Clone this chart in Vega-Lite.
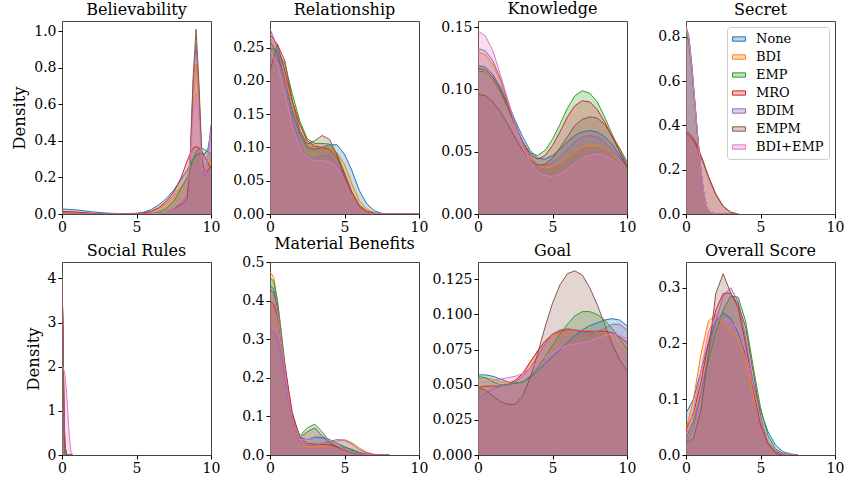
{
"$schema": "https://vega.github.io/schema/vega-lite/v6.json",
"padding": {"left": 11, "top": 0, "right": 5, "bottom": 5},
"background": "white",
"data": {"values": [
{"p":"B","x":0,"None":0.028,"BDI":0.015,"EMP":0.005,"MRO":0.015,"BDIM":0.002,"EMPM":0.005,"BDI+EMP":0.002},
{"p":"B","x":1,"None":0.022,"BDI":0.01,"EMP":0.003,"MRO":0.01,"BDIM":0.001,"EMPM":0.003,"BDI+EMP":0.001},
{"p":"B","x":2,"None":0.012,"BDI":0.004,"EMP":0.001,"MRO":0.004,"BDIM":0,"EMPM":0.001,"BDI+EMP":0},
{"p":"B","x":3,"None":0.005,"BDI":0.001,"EMP":0,"MRO":0.001,"BDIM":0,"EMPM":0,"BDI+EMP":0},
{"p":"B","x":4,"None":0.002,"BDI":0,"EMP":0,"MRO":0,"BDIM":0,"EMPM":0,"BDI+EMP":0},
{"p":"B","x":5,"None":0.004,"BDI":0.002,"EMP":0,"MRO":0.002,"BDIM":0,"EMPM":0,"BDI+EMP":0},
{"p":"B","x":5.5,"None":0.01,"BDI":0.005,"EMP":0.001,"MRO":0.006,"BDIM":0,"EMPM":0,"BDI+EMP":0},
{"p":"B","x":6,"None":0.025,"BDI":0.012,"EMP":0.003,"MRO":0.015,"BDIM":0.001,"EMPM":0.001,"BDI+EMP":0.001},
{"p":"B","x":6.5,"None":0.05,"BDI":0.03,"EMP":0.01,"MRO":0.035,"BDIM":0.004,"EMPM":0.003,"BDI+EMP":0.004},
{"p":"B","x":7,"None":0.085,"BDI":0.06,"EMP":0.03,"MRO":0.07,"BDIM":0.01,"EMPM":0.01,"BDI+EMP":0.01},
{"p":"B","x":7.5,"None":0.13,"BDI":0.1,"EMP":0.07,"MRO":0.12,"BDIM":0.03,"EMPM":0.03,"BDI+EMP":0.03},
{"p":"B","x":8,"None":0.19,"BDI":0.15,"EMP":0.14,"MRO":0.2,"BDIM":0.06,"EMPM":0.05,"BDI+EMP":0.08},
{"p":"B","x":8.4,"None":0.24,"BDI":0.2,"EMP":0.2,"MRO":0.29,"BDIM":0.1,"EMPM":0.08,"BDI+EMP":0.15},
{"p":"B","x":8.6,"None":0.27,"BDI":0.3,"EMP":0.24,"MRO":0.33,"BDIM":0.3,"EMPM":0.3,"BDI+EMP":0.3},
{"p":"B","x":8.8,"None":0.3,"BDI":0.6,"EMP":0.3,"MRO":0.36,"BDIM":0.7,"EMPM":0.75,"BDI+EMP":0.52},
{"p":"B","x":9,"None":0.32,"BDI":0.82,"EMP":0.34,"MRO":0.37,"BDIM":0.93,"EMPM":1.01,"BDI+EMP":0.66},
{"p":"B","x":9.2,"None":0.33,"BDI":0.6,"EMP":0.36,"MRO":0.36,"BDIM":0.65,"EMPM":0.7,"BDI+EMP":0.5},
{"p":"B","x":9.4,"None":0.33,"BDI":0.3,"EMP":0.36,"MRO":0.34,"BDIM":0.25,"EMPM":0.3,"BDI+EMP":0.25},
{"p":"B","x":9.6,"None":0.33,"BDI":0.22,"EMP":0.35,"MRO":0.31,"BDIM":0.2,"EMPM":0.22,"BDI+EMP":0.22},
{"p":"B","x":9.8,"None":0.36,"BDI":0.25,"EMP":0.34,"MRO":0.28,"BDIM":0.32,"EMPM":0.24,"BDI+EMP":0.32},
{"p":"B","x":10,"None":0.45,"BDI":0.32,"EMP":0.33,"MRO":0.25,"BDIM":0.49,"EMPM":0.26,"BDI+EMP":0.45},

{"p":"R","x":0,"None":0.26,"BDI":0.265,"EMP":0.25,"MRO":0.27,"BDIM":0.278,"EMPM":0.215,"BDI+EMP":0.245},
{"p":"R","x":0.5,"None":0.24,"BDI":0.25,"EMP":0.245,"MRO":0.255,"BDIM":0.25,"EMPM":0.255,"BDI+EMP":0.225},
{"p":"R","x":1,"None":0.2,"BDI":0.21,"EMP":0.225,"MRO":0.215,"BDIM":0.2,"EMPM":0.23,"BDI+EMP":0.18},
{"p":"R","x":1.5,"None":0.155,"BDI":0.16,"EMP":0.18,"MRO":0.17,"BDIM":0.145,"EMPM":0.17,"BDI+EMP":0.13},
{"p":"R","x":2,"None":0.12,"BDI":0.125,"EMP":0.14,"MRO":0.135,"BDIM":0.105,"EMPM":0.125,"BDI+EMP":0.1},
{"p":"R","x":2.5,"None":0.1,"BDI":0.105,"EMP":0.113,"MRO":0.11,"BDIM":0.085,"EMPM":0.105,"BDI+EMP":0.085},
{"p":"R","x":3,"None":0.097,"BDI":0.1,"EMP":0.106,"MRO":0.102,"BDIM":0.083,"EMPM":0.11,"BDI+EMP":0.08},
{"p":"R","x":3.5,"None":0.1,"BDI":0.1,"EMP":0.106,"MRO":0.1,"BDIM":0.088,"EMPM":0.118,"BDI+EMP":0.08},
{"p":"R","x":4,"None":0.104,"BDI":0.1,"EMP":0.105,"MRO":0.097,"BDIM":0.088,"EMPM":0.112,"BDI+EMP":0.078},
{"p":"R","x":4.5,"None":0.104,"BDI":0.092,"EMP":0.09,"MRO":0.085,"BDIM":0.075,"EMPM":0.088,"BDI+EMP":0.07},
{"p":"R","x":5,"None":0.09,"BDI":0.075,"EMP":0.062,"MRO":0.06,"BDIM":0.05,"EMPM":0.055,"BDI+EMP":0.05},
{"p":"R","x":5.5,"None":0.065,"BDI":0.045,"EMP":0.033,"MRO":0.032,"BDIM":0.025,"EMPM":0.026,"BDI+EMP":0.025},
{"p":"R","x":6,"None":0.035,"BDI":0.02,"EMP":0.013,"MRO":0.012,"BDIM":0.009,"EMPM":0.009,"BDI+EMP":0.008},
{"p":"R","x":6.5,"None":0.015,"BDI":0.007,"EMP":0.004,"MRO":0.004,"BDIM":0.002,"EMPM":0.002,"BDI+EMP":0.002},
{"p":"R","x":7,"None":0.005,"BDI":0.002,"EMP":0.001,"MRO":0.001,"BDIM":0,"EMPM":0,"BDI+EMP":0},
{"p":"R","x":7.5,"None":0.001,"BDI":0,"EMP":0,"MRO":0,"BDIM":0,"EMPM":0,"BDI+EMP":0},
{"p":"R","x":8,"None":0,"BDI":0,"EMP":0,"MRO":0,"BDIM":0,"EMPM":0,"BDI+EMP":0},
{"p":"R","x":10,"None":0,"BDI":0,"EMP":0,"MRO":0,"BDIM":0,"EMPM":0,"BDI+EMP":0},

{"p":"K","x":0,"None":0.119,"BDI":0.13,"EMP":0.115,"MRO":0.117,"BDIM":0.133,"EMPM":0.096,"BDI+EMP":0.147},
{"p":"K","x":0.5,"None":0.118,"BDI":0.128,"EMP":0.114,"MRO":0.116,"BDIM":0.131,"EMPM":0.095,"BDI+EMP":0.143},
{"p":"K","x":1,"None":0.112,"BDI":0.12,"EMP":0.108,"MRO":0.11,"BDIM":0.123,"EMPM":0.09,"BDI+EMP":0.131},
{"p":"K","x":1.5,"None":0.102,"BDI":0.107,"EMP":0.098,"MRO":0.1,"BDIM":0.109,"EMPM":0.082,"BDI+EMP":0.112},
{"p":"K","x":2,"None":0.089,"BDI":0.09,"EMP":0.085,"MRO":0.087,"BDIM":0.091,"EMPM":0.072,"BDI+EMP":0.092},
{"p":"K","x":2.5,"None":0.075,"BDI":0.072,"EMP":0.071,"MRO":0.072,"BDIM":0.073,"EMPM":0.061,"BDI+EMP":0.071},
{"p":"K","x":3,"None":0.062,"BDI":0.056,"EMP":0.058,"MRO":0.058,"BDIM":0.057,"EMPM":0.051,"BDI+EMP":0.054},
{"p":"K","x":3.5,"None":0.051,"BDI":0.045,"EMP":0.049,"MRO":0.048,"BDIM":0.046,"EMPM":0.043,"BDI+EMP":0.042},
{"p":"K","x":4,"None":0.045,"BDI":0.039,"EMP":0.047,"MRO":0.044,"BDIM":0.04,"EMPM":0.039,"BDI+EMP":0.034},
{"p":"K","x":4.5,"None":0.044,"BDI":0.037,"EMP":0.051,"MRO":0.047,"BDIM":0.039,"EMPM":0.04,"BDI+EMP":0.031},
{"p":"K","x":5,"None":0.047,"BDI":0.038,"EMP":0.06,"MRO":0.055,"BDIM":0.041,"EMPM":0.045,"BDI+EMP":0.03},
{"p":"K","x":5.5,"None":0.052,"BDI":0.041,"EMP":0.072,"MRO":0.066,"BDIM":0.046,"EMPM":0.053,"BDI+EMP":0.032},
{"p":"K","x":6,"None":0.058,"BDI":0.046,"EMP":0.085,"MRO":0.078,"BDIM":0.052,"EMPM":0.062,"BDI+EMP":0.036},
{"p":"K","x":6.5,"None":0.063,"BDI":0.05,"EMP":0.095,"MRO":0.087,"BDIM":0.058,"EMPM":0.071,"BDI+EMP":0.041},
{"p":"K","x":7,"None":0.066,"BDI":0.054,"EMP":0.099,"MRO":0.091,"BDIM":0.062,"EMPM":0.076,"BDI+EMP":0.045},
{"p":"K","x":7.5,"None":0.067,"BDI":0.055,"EMP":0.097,"MRO":0.09,"BDIM":0.063,"EMPM":0.078,"BDI+EMP":0.047},
{"p":"K","x":8,"None":0.066,"BDI":0.055,"EMP":0.09,"MRO":0.084,"BDIM":0.062,"EMPM":0.077,"BDI+EMP":0.048},
{"p":"K","x":8.5,"None":0.062,"BDI":0.053,"EMP":0.078,"MRO":0.074,"BDIM":0.058,"EMPM":0.072,"BDI+EMP":0.047},
{"p":"K","x":9,"None":0.056,"BDI":0.048,"EMP":0.064,"MRO":0.062,"BDIM":0.052,"EMPM":0.063,"BDI+EMP":0.044},
{"p":"K","x":9.5,"None":0.047,"BDI":0.042,"EMP":0.051,"MRO":0.05,"BDIM":0.045,"EMPM":0.053,"BDI+EMP":0.039},
{"p":"K","x":10,"None":0.038,"BDI":0.035,"EMP":0.04,"MRO":0.038,"BDIM":0.037,"EMPM":0.042,"BDI+EMP":0.032},

{"p":"S","x":0,"None":0.83,"BDI":0.84,"EMP":0.82,"MRO":0.37,"BDIM":0.85,"EMPM":0.36,"BDI+EMP":0.84},
{"p":"S","x":0.2,"None":0.78,"BDI":0.79,"EMP":0.77,"MRO":0.365,"BDIM":0.8,"EMPM":0.355,"BDI+EMP":0.79},
{"p":"S","x":0.4,"None":0.65,"BDI":0.66,"EMP":0.645,"MRO":0.35,"BDIM":0.67,"EMPM":0.34,"BDI+EMP":0.66},
{"p":"S","x":0.6,"None":0.49,"BDI":0.5,"EMP":0.49,"MRO":0.33,"BDIM":0.505,"EMPM":0.32,"BDI+EMP":0.5},
{"p":"S","x":0.8,"None":0.335,"BDI":0.34,"EMP":0.33,"MRO":0.3,"BDIM":0.345,"EMPM":0.29,"BDI+EMP":0.34},
{"p":"S","x":1,"None":0.2,"BDI":0.2,"EMP":0.195,"MRO":0.265,"BDIM":0.2,"EMPM":0.257,"BDI+EMP":0.2},
{"p":"S","x":1.2,"None":0.09,"BDI":0.09,"EMP":0.088,"MRO":0.23,"BDIM":0.091,"EMPM":0.223,"BDI+EMP":0.09},
{"p":"S","x":1.4,"None":0.03,"BDI":0.03,"EMP":0.03,"MRO":0.19,"BDIM":0.03,"EMPM":0.184,"BDI+EMP":0.03},
{"p":"S","x":1.6,"None":0.008,"BDI":0.008,"EMP":0.008,"MRO":0.155,"BDIM":0.008,"EMPM":0.15,"BDI+EMP":0.008},
{"p":"S","x":2,"None":0,"BDI":0,"EMP":0,"MRO":0.09,"BDIM":0,"EMPM":0.087,"BDI+EMP":0},
{"p":"S","x":2.5,"None":0,"BDI":0,"EMP":0,"MRO":0.035,"BDIM":0,"EMPM":0.034,"BDI+EMP":0},
{"p":"S","x":3,"None":0,"BDI":0,"EMP":0,"MRO":0.008,"BDIM":0,"EMPM":0.008,"BDI+EMP":0},
{"p":"S","x":3.5,"None":0,"BDI":0,"EMP":0,"MRO":0,"BDIM":0,"EMPM":0,"BDI+EMP":0},

{"p":"SR","x":0,"None":3.7,"BDI":3.8,"EMP":4.16,"MRO":3.6,"BDIM":3.9,"EMPM":4.0,"BDI+EMP":2.0},
{"p":"SR","x":0.05,"None":3.1,"BDI":3.2,"EMP":2.9,"MRO":3.05,"BDIM":3.2,"EMPM":3.1,"BDI+EMP":1.99},
{"p":"SR","x":0.1,"None":1.8,"BDI":1.9,"EMP":1.0,"MRO":1.85,"BDIM":1.8,"EMPM":1.5,"BDI+EMP":1.96},
{"p":"SR","x":0.15,"None":0.7,"BDI":0.75,"EMP":0.2,"MRO":0.75,"BDIM":0.65,"EMPM":0.45,"BDI+EMP":1.9},
{"p":"SR","x":0.2,"None":0.2,"BDI":0.22,"EMP":0.02,"MRO":0.22,"BDIM":0.18,"EMPM":0.1,"BDI+EMP":1.82},
{"p":"SR","x":0.3,"None":0.01,"BDI":0.01,"EMP":0,"MRO":0.01,"BDIM":0.01,"EMPM":0,"BDI+EMP":1.45},
{"p":"SR","x":0.4,"None":0,"BDI":0,"EMP":0,"MRO":0,"BDIM":0,"EMPM":0,"BDI+EMP":0.9},
{"p":"SR","x":0.5,"None":0,"BDI":0,"EMP":0,"MRO":0,"BDIM":0,"EMPM":0,"BDI+EMP":0.4},
{"p":"SR","x":0.6,"None":0,"BDI":0,"EMP":0,"MRO":0,"BDIM":0,"EMPM":0,"BDI+EMP":0.08},
{"p":"SR","x":0.7,"None":0,"BDI":0,"EMP":0,"MRO":0,"BDIM":0,"EMPM":0,"BDI+EMP":0},

{"p":"M","x":0,"None":0.44,"BDI":0.475,"EMP":0.46,"MRO":0.4,"BDIM":0.32,"EMPM":0.43,"BDI+EMP":0.42},
{"p":"M","x":0.25,"None":0.43,"BDI":0.46,"EMP":0.45,"MRO":0.39,"BDIM":0.32,"EMPM":0.42,"BDI+EMP":0.41},
{"p":"M","x":0.5,"None":0.38,"BDI":0.4,"EMP":0.4,"MRO":0.36,"BDIM":0.3,"EMPM":0.37,"BDI+EMP":0.37},
{"p":"M","x":0.75,"None":0.31,"BDI":0.32,"EMP":0.32,"MRO":0.3,"BDIM":0.26,"EMPM":0.3,"BDI+EMP":0.3},
{"p":"M","x":1,"None":0.23,"BDI":0.23,"EMP":0.235,"MRO":0.235,"BDIM":0.2,"EMPM":0.22,"BDI+EMP":0.22},
{"p":"M","x":1.25,"None":0.16,"BDI":0.15,"EMP":0.16,"MRO":0.17,"BDIM":0.14,"EMPM":0.15,"BDI+EMP":0.15},
{"p":"M","x":1.5,"None":0.1,"BDI":0.09,"EMP":0.1,"MRO":0.11,"BDIM":0.09,"EMPM":0.095,"BDI+EMP":0.095},
{"p":"M","x":2,"None":0.045,"BDI":0.035,"EMP":0.05,"MRO":0.045,"BDIM":0.035,"EMPM":0.045,"BDI+EMP":0.04},
{"p":"M","x":2.5,"None":0.04,"BDI":0.022,"EMP":0.07,"MRO":0.03,"BDIM":0.025,"EMPM":0.06,"BDI+EMP":0.04},
{"p":"M","x":3,"None":0.045,"BDI":0.02,"EMP":0.08,"MRO":0.028,"BDIM":0.025,"EMPM":0.07,"BDI+EMP":0.048},
{"p":"M","x":3.5,"None":0.045,"BDI":0.022,"EMP":0.06,"MRO":0.028,"BDIM":0.03,"EMPM":0.05,"BDI+EMP":0.05},
{"p":"M","x":4,"None":0.04,"BDI":0.028,"EMP":0.035,"MRO":0.026,"BDIM":0.035,"EMPM":0.03,"BDI+EMP":0.04},
{"p":"M","x":4.5,"None":0.03,"BDI":0.036,"EMP":0.022,"MRO":0.022,"BDIM":0.04,"EMPM":0.02,"BDI+EMP":0.025},
{"p":"M","x":5,"None":0.022,"BDI":0.04,"EMP":0.02,"MRO":0.016,"BDIM":0.038,"EMPM":0.012,"BDI+EMP":0.015},
{"p":"M","x":5.5,"None":0.012,"BDI":0.032,"EMP":0.015,"MRO":0.008,"BDIM":0.028,"EMPM":0.006,"BDI+EMP":0.008},
{"p":"M","x":6,"None":0.005,"BDI":0.018,"EMP":0.007,"MRO":0.003,"BDIM":0.014,"EMPM":0.002,"BDI+EMP":0.003},
{"p":"M","x":6.5,"None":0.002,"BDI":0.007,"EMP":0.002,"MRO":0.001,"BDIM":0.005,"EMPM":0,"BDI+EMP":0.001},
{"p":"M","x":7,"None":0,"BDI":0.002,"EMP":0,"MRO":0,"BDIM":0.001,"EMPM":0,"BDI+EMP":0},
{"p":"M","x":7.5,"None":0,"BDI":0,"EMP":0,"MRO":0,"BDIM":0,"EMPM":0,"BDI+EMP":0},
{"p":"M","x":8,"None":0,"BDI":0,"EMP":0,"MRO":0,"BDIM":0,"EMPM":0,"BDI+EMP":0},

{"p":"G","x":0,"None":0.057,"BDI":0.054,"EMP":0.056,"MRO":0.048,"BDIM":0.04,"EMPM":0.048,"BDI+EMP":0.052},
{"p":"G","x":0.5,"None":0.057,"BDI":0.055,"EMP":0.055,"MRO":0.049,"BDIM":0.044,"EMPM":0.046,"BDI+EMP":0.052},
{"p":"G","x":1,"None":0.056,"BDI":0.054,"EMP":0.052,"MRO":0.049,"BDIM":0.047,"EMPM":0.042,"BDI+EMP":0.053},
{"p":"G","x":1.5,"None":0.054,"BDI":0.052,"EMP":0.05,"MRO":0.049,"BDIM":0.049,"EMPM":0.038,"BDI+EMP":0.054},
{"p":"G","x":2,"None":0.052,"BDI":0.051,"EMP":0.05,"MRO":0.05,"BDIM":0.05,"EMPM":0.036,"BDI+EMP":0.055},
{"p":"G","x":2.5,"None":0.051,"BDI":0.053,"EMP":0.051,"MRO":0.053,"BDIM":0.052,"EMPM":0.036,"BDI+EMP":0.056},
{"p":"G","x":3,"None":0.052,"BDI":0.058,"EMP":0.052,"MRO":0.058,"BDIM":0.056,"EMPM":0.042,"BDI+EMP":0.058},
{"p":"G","x":3.5,"None":0.055,"BDI":0.066,"EMP":0.056,"MRO":0.066,"BDIM":0.062,"EMPM":0.055,"BDI+EMP":0.062},
{"p":"G","x":4,"None":0.06,"BDI":0.074,"EMP":0.062,"MRO":0.074,"BDIM":0.07,"EMPM":0.072,"BDI+EMP":0.066},
{"p":"G","x":4.5,"None":0.065,"BDI":0.081,"EMP":0.07,"MRO":0.081,"BDIM":0.079,"EMPM":0.091,"BDI+EMP":0.07},
{"p":"G","x":5,"None":0.07,"BDI":0.085,"EMP":0.078,"MRO":0.086,"BDIM":0.086,"EMPM":0.108,"BDI+EMP":0.073},
{"p":"G","x":5.5,"None":0.075,"BDI":0.087,"EMP":0.086,"MRO":0.088,"BDIM":0.089,"EMPM":0.121,"BDI+EMP":0.076},
{"p":"G","x":6,"None":0.08,"BDI":0.088,"EMP":0.093,"MRO":0.089,"BDIM":0.09,"EMPM":0.129,"BDI+EMP":0.078},
{"p":"G","x":6.5,"None":0.085,"BDI":0.088,"EMP":0.099,"MRO":0.089,"BDIM":0.089,"EMPM":0.131,"BDI+EMP":0.079},
{"p":"G","x":7,"None":0.089,"BDI":0.088,"EMP":0.102,"MRO":0.088,"BDIM":0.087,"EMPM":0.128,"BDI+EMP":0.08},
{"p":"G","x":7.5,"None":0.092,"BDI":0.088,"EMP":0.102,"MRO":0.088,"BDIM":0.087,"EMPM":0.119,"BDI+EMP":0.081},
{"p":"G","x":8,"None":0.094,"BDI":0.088,"EMP":0.1,"MRO":0.088,"BDIM":0.088,"EMPM":0.107,"BDI+EMP":0.083},
{"p":"G","x":8.5,"None":0.096,"BDI":0.087,"EMP":0.096,"MRO":0.088,"BDIM":0.09,"EMPM":0.093,"BDI+EMP":0.085},
{"p":"G","x":9,"None":0.097,"BDI":0.084,"EMP":0.09,"MRO":0.087,"BDIM":0.093,"EMPM":0.079,"BDI+EMP":0.086},
{"p":"G","x":9.5,"None":0.096,"BDI":0.079,"EMP":0.083,"MRO":0.084,"BDIM":0.093,"EMPM":0.068,"BDI+EMP":0.085},
{"p":"G","x":10,"None":0.092,"BDI":0.073,"EMP":0.075,"MRO":0.08,"BDIM":0.089,"EMPM":0.06,"BDI+EMP":0.083},

{"p":"O","x":0,"None":0.075,"BDI":0.045,"EMP":0.03,"MRO":0.045,"BDIM":0.02,"EMPM":0.02,"BDI+EMP":0.035},
{"p":"O","x":0.5,"None":0.1,"BDI":0.1,"EMP":0.06,"MRO":0.075,"BDIM":0.05,"EMPM":0.03,"BDI+EMP":0.08},
{"p":"O","x":1,"None":0.15,"BDI":0.18,"EMP":0.11,"MRO":0.13,"BDIM":0.11,"EMPM":0.08,"BDI+EMP":0.15},
{"p":"O","x":1.5,"None":0.2,"BDI":0.24,"EMP":0.17,"MRO":0.2,"BDIM":0.18,"EMPM":0.18,"BDI+EMP":0.22},
{"p":"O","x":2,"None":0.24,"BDI":0.252,"EMP":0.22,"MRO":0.26,"BDIM":0.24,"EMPM":0.29,"BDI+EMP":0.25},
{"p":"O","x":2.5,"None":0.255,"BDI":0.235,"EMP":0.26,"MRO":0.29,"BDIM":0.285,"EMPM":0.325,"BDI+EMP":0.245},
{"p":"O","x":3,"None":0.245,"BDI":0.22,"EMP":0.285,"MRO":0.29,"BDIM":0.3,"EMPM":0.29,"BDI+EMP":0.24},
{"p":"O","x":3.5,"None":0.22,"BDI":0.21,"EMP":0.283,"MRO":0.265,"BDIM":0.275,"EMPM":0.27,"BDI+EMP":0.225},
{"p":"O","x":4,"None":0.18,"BDI":0.17,"EMP":0.24,"MRO":0.2,"BDIM":0.21,"EMPM":0.23,"BDI+EMP":0.185},
{"p":"O","x":4.5,"None":0.13,"BDI":0.11,"EMP":0.16,"MRO":0.12,"BDIM":0.13,"EMPM":0.15,"BDI+EMP":0.125},
{"p":"O","x":5,"None":0.08,"BDI":0.058,"EMP":0.085,"MRO":0.055,"BDIM":0.06,"EMPM":0.07,"BDI+EMP":0.065},
{"p":"O","x":5.5,"None":0.042,"BDI":0.024,"EMP":0.035,"MRO":0.02,"BDIM":0.022,"EMPM":0.02,"BDI+EMP":0.026},
{"p":"O","x":6,"None":0.018,"BDI":0.008,"EMP":0.011,"MRO":0.006,"BDIM":0.006,"EMPM":0.004,"BDI+EMP":0.008},
{"p":"O","x":6.5,"None":0.006,"BDI":0.002,"EMP":0.003,"MRO":0.001,"BDIM":0.001,"EMPM":0,"BDI+EMP":0.002},
{"p":"O","x":7,"None":0.002,"BDI":0,"EMP":0,"MRO":0,"BDIM":0,"EMPM":0,"BDI+EMP":0},
{"p":"O","x":7.5,"None":0,"BDI":0,"EMP":0,"MRO":0,"BDIM":0,"EMPM":0,"BDI+EMP":0}
]},
"transform": [{"fold": ["None","BDI","EMP","MRO","BDIM","EMPM","BDI+EMP"], "as": ["s","y"]}],
"columns": 4,
"spacing": {"row": 48, "column": 59},
"bounds": "flush",
"resolve": {"legend": {"color": "independent"}},
"concat": [
{"title":"Believability","width":149,"height":193,"transform":[{"filter":"datum.p=='B'"}],
 "encoding":{"x":{"field":"x","type":"quantitative","title":null,"scale":{"domain":[0,10]},"axis":{"values":[0,5,10],"format":"d"}},
  "y":{"field":"y","type":"quantitative","stack":null,"title":"Density","scale":{"domain":[0,1.055]},"axis":{"values":[0,0.2,0.4,0.6,0.8,1.0],"format":".1f"}},
  "color":{"field":"s","type":"nominal","scale":{"domain":["None","BDI","EMP","MRO","BDIM","EMPM","BDI+EMP"]},"legend":null}},
 "layer":[{"mark":{"type":"area","opacity":0.25,"clip":true}},{"mark":{"type":"line","strokeWidth":1,"clip":true}}]},
{"title":"Relationship","width":149,"height":193,"transform":[{"filter":"datum.p=='R'"}],
 "encoding":{"x":{"field":"x","type":"quantitative","title":null,"scale":{"domain":[0,10]},"axis":{"values":[0,5,10],"format":"d"}},
  "y":{"field":"y","type":"quantitative","stack":null,"title":null,"scale":{"domain":[0,0.29]},"axis":{"values":[0,0.05,0.1,0.15,0.2,0.25],"format":".2f"}},
  "color":{"field":"s","type":"nominal","scale":{"domain":["None","BDI","EMP","MRO","BDIM","EMPM","BDI+EMP"]},"legend":null}},
 "layer":[{"mark":{"type":"area","opacity":0.25,"clip":true}},{"mark":{"type":"line","strokeWidth":1,"clip":true}}]},
{"title":"Knowledge","width":149,"height":193,"transform":[{"filter":"datum.p=='K'"}],
 "encoding":{"x":{"field":"x","type":"quantitative","title":null,"scale":{"domain":[0,10]},"axis":{"values":[0,5,10],"format":"d"}},
  "y":{"field":"y","type":"quantitative","stack":null,"title":null,"scale":{"domain":[0,0.155]},"axis":{"values":[0,0.05,0.1,0.15],"format":".2f"}},
  "color":{"field":"s","type":"nominal","scale":{"domain":["None","BDI","EMP","MRO","BDIM","EMPM","BDI+EMP"]},"legend":null}},
 "layer":[{"mark":{"type":"area","opacity":0.25,"clip":true}},{"mark":{"type":"line","strokeWidth":1,"clip":true}}]},
{"title":"Secret","width":149,"height":193,"transform":[{"filter":"datum.p=='S'"}],
 "encoding":{"x":{"field":"x","type":"quantitative","title":null,"scale":{"domain":[0,10]},"axis":{"values":[0,5,10],"format":"d"}},
  "y":{"field":"y","type":"quantitative","stack":null,"title":null,"scale":{"domain":[0,0.871]},"axis":{"values":[0,0.2,0.4,0.6,0.8],"format":".1f"}},
  "color":{"field":"s","type":"nominal","scale":{"domain":["None","BDI","EMP","MRO","BDIM","EMPM","BDI+EMP"]},
   "legend":{"orient":"top-right","offset":6,"title":null,"labelFontSize":13,"labelFont":"DejaVu Serif","labelColor":"#000","symbolType":"M-1,-0.33L1,-0.33L1,0.33L-1,0.33Z","symbolSize":169,"rowPadding":4,"padding":5,"strokeColor":"#cccccc","fillColor":"rgba(255,255,255,0.8)","cornerRadius":3,"labelOffset":10,"symbolStrokeWidth":1,
    "encode":{"symbols":{"update":{"opacity":{"value":1},"fillOpacity":{"value":0.3},"strokeOpacity":{"value":1},"stroke":{"scale":"color","field":"value"}}}}}}},
 "layer":[{"mark":{"type":"area","opacity":0.25,"clip":true}},{"mark":{"type":"line","strokeWidth":1,"clip":true}}]},
{"title":"Social Rules","width":149,"height":193,"transform":[{"filter":"datum.p=='SR'"}],
 "encoding":{"x":{"field":"x","type":"quantitative","title":null,"scale":{"domain":[0,10]},"axis":{"values":[0,5,10],"format":"d"}},
  "y":{"field":"y","type":"quantitative","stack":null,"title":"Density","scale":{"domain":[0,4.37]},"axis":{"values":[0,1,2,3,4],"format":"d"}},
  "color":{"field":"s","type":"nominal","scale":{"domain":["None","BDI","EMP","MRO","BDIM","EMPM","BDI+EMP"]},"legend":null}},
 "layer":[{"mark":{"type":"area","opacity":0.25,"clip":true}},{"mark":{"type":"line","strokeWidth":1,"clip":true}}]},
{"title":"Material Benefits","width":149,"height":193,"transform":[{"filter":"datum.p=='M'"}],
 "encoding":{"x":{"field":"x","type":"quantitative","title":null,"scale":{"domain":[0,10]},"axis":{"values":[0,5,10],"format":"d"}},
  "y":{"field":"y","type":"quantitative","stack":null,"title":null,"scale":{"domain":[0,0.5]},"axis":{"values":[0,0.1,0.2,0.3,0.4,0.5],"format":".1f"}},
  "color":{"field":"s","type":"nominal","scale":{"domain":["None","BDI","EMP","MRO","BDIM","EMPM","BDI+EMP"]},"legend":null}},
 "layer":[{"mark":{"type":"area","opacity":0.25,"clip":true}},{"mark":{"type":"line","strokeWidth":1,"clip":true}}]},
{"title":"Goal","width":149,"height":193,"transform":[{"filter":"datum.p=='G'"}],
 "encoding":{"x":{"field":"x","type":"quantitative","title":null,"scale":{"domain":[0,10]},"axis":{"values":[0,5,10],"format":"d"}},
  "y":{"field":"y","type":"quantitative","stack":null,"title":null,"scale":{"domain":[0,0.1373]},"axis":{"values":[0,0.025,0.05,0.075,0.1,0.125],"format":".3f"}},
  "color":{"field":"s","type":"nominal","scale":{"domain":["None","BDI","EMP","MRO","BDIM","EMPM","BDI+EMP"]},"legend":null}},
 "layer":[{"mark":{"type":"area","opacity":0.25,"clip":true}},{"mark":{"type":"line","strokeWidth":1,"clip":true}}]},
{"title":"Overall Score","width":149,"height":193,"transform":[{"filter":"datum.p=='O'"}],
 "encoding":{"x":{"field":"x","type":"quantitative","title":null,"scale":{"domain":[0,10]},"axis":{"values":[0,5,10],"format":"d"}},
  "y":{"field":"y","type":"quantitative","stack":null,"title":null,"scale":{"domain":[0,0.346]},"axis":{"values":[0,0.1,0.2,0.3],"format":".1f"}},
  "color":{"field":"s","type":"nominal","scale":{"domain":["None","BDI","EMP","MRO","BDIM","EMPM","BDI+EMP"]},"legend":null}},
 "layer":[{"mark":{"type":"area","opacity":0.25,"clip":true}},{"mark":{"type":"line","strokeWidth":1,"clip":true}}]}
],
"config": {
 "font": "DejaVu Serif",
 "range": {"category": ["#1f77b4","#ff7f0e","#2ca02c","#d62728","#9467bd","#8c564b","#e377c2"]},
 "view": {"stroke": "#444444", "strokeWidth": 1},
 "title": {"font": "DejaVu Serif", "fontSize": 16, "fontWeight": "normal", "color": "#000", "offset": 3, "anchor": "middle"},
 "axis": {"grid": false, "domain": false, "ticks": true, "tickSize": 4, "tickColor": "#000", "tickWidth": 1,
  "labelFont": "DejaVu Serif", "labelFontSize": 14, "labelColor": "#000", "labelPadding": 2, "labelFlush": false, "labelOverlap": false,
  "titleFont": "DejaVu Serif", "titleFontSize": 16.5, "titleFontWeight": "normal", "titleColor": "#000", "titlePadding": 6}
}
}
